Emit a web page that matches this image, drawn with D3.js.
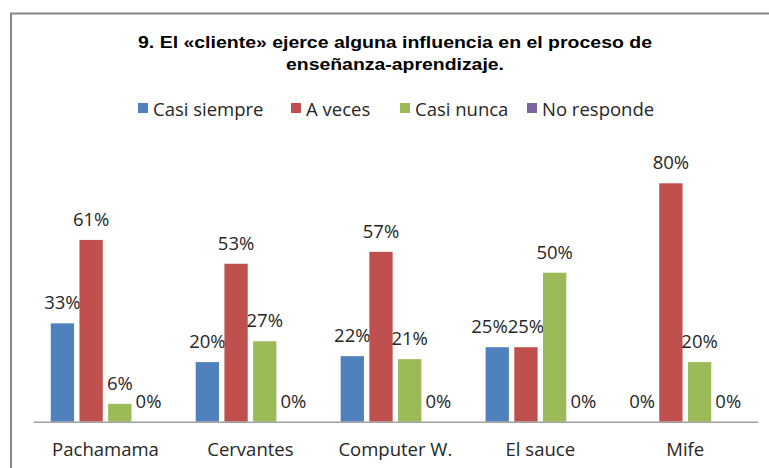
<!DOCTYPE html>
<html>
<head>
<meta charset="utf-8">
<script src="https://cdn.jsdelivr.net/npm/d3@7"></script>
<style>
html,body{margin:0;padding:0;background:#fff;}
svg{display:block;}
</style>
</head>
<body>
<svg id="chart" width="769" height="468"></svg>
<script>
const titleLines = ["9. El «cliente» ejerce alguna influencia en el proceso de", "enseñanza-aprendizaje."];
const categories = ["Pachamama", "Cervantes", "Computer W.", "El sauce", "Mife"];
const seriesNames = ["Casi siempre", "A veces", "Casi nunca", "No responde"];
const seriesColors = ["#4F81BD", "#C0504D", "#9BBB59", "#8064A2"];
const casiSiempre = [33, 20, 22, 25, 0];
const aVeces = [61, 53, 57, 25, 80];
const casiNunca = [6, 27, 21, 50, 20];
const noResponde = [0, 0, 0, 0, 0];
const seriesValues = [casiSiempre, aVeces, casiNunca, noResponde];

const svg = d3.select("#chart");
const labelFont = "'Open Sans', Lato, sans-serif";

// border frame
svg.append("rect")
  .attr("x", 11).attr("y", 13.5)
  .attr("width", 800).attr("height", 500)
  .attr("fill", "none").attr("stroke", "#868686").attr("stroke-width", 2);

// title
const titleY = [48, 70];
const titleW = [514, 218];
titleLines.forEach((t, i) => {
  svg.append("text")
    .attr("x", 395).attr("y", titleY[i])
    .attr("text-anchor", "middle")
    .attr("font-family", "'Liberation Sans', Arial, sans-serif")
    .attr("font-weight", "bold")
    .attr("font-size", 16.5)
    .attr("textLength", titleW[i])
    .attr("lengthAdjust", "spacingAndGlyphs")
    .attr("fill", "#000")
    .text(t);
});

// legend
const legendX = [138, 291, 400, 527];
const legend = svg.append("g");
seriesNames.forEach((name, i) => {
  legend.append("rect")
    .attr("x", legendX[i]).attr("y", 103)
    .attr("width", 10).attr("height", 10)
    .attr("fill", seriesColors[i]);
  legend.append("text")
    .attr("x", legendX[i] + 15).attr("y", 115.5)
    .attr("font-family", labelFont)
    .attr("font-size", 18.5)
    .attr("fill", "#262626")
    .text(name);
});

// scales
const x0 = d3.scaleBand().domain(categories).range([33, 757.7]).padding(0);
const groupW = x0.bandwidth();
const innerW = 109.4;
const x1 = d3.scaleBand().domain(d3.range(seriesNames.length))
  .range([(groupW - innerW) / 2, (groupW + innerW) / 2])
  .paddingInner(0.188).paddingOuter(0);
const y = d3.scaleLinear().domain([0, 100]).range([421.7, 123.7]);

// bars
const groups = svg.append("g").selectAll("g")
  .data(categories)
  .join("g")
  .attr("transform", d => `translate(${x0(d)},0)`);

groups.each(function(cat, ci) {
  const g = d3.select(this);
  const labels = [];
  seriesValues.forEach((vals, si) => {
    const v = vals[ci];
    g.append("rect")
      .attr("x", x1(si)).attr("width", x1.bandwidth())
      .attr("y", y(v)).attr("height", y(0) - y(v))
      .attr("fill", seriesColors[si]);
    const t = g.append("text")
      .attr("x", x1(si) + x1.bandwidth() / 2)
      .attr("y", y(v) - 14)
      .attr("text-anchor", "middle")
      .attr("font-family", labelFont)
      .attr("font-size", 18.5)
      .attr("fill", "#262626")
      .text(v + "%");
    labels.push({t, v, cx: x1(si) + x1.bandwidth() / 2});
  });
  // nudge labels that collide with the next one at the same height
  for (let i = labels.length - 2; i >= 0; i--) {
    const a = labels[i], b = labels[i + 1];
    if (Math.abs(a.v - b.v) < 4) {
      const wa = a.t.node().getComputedTextLength();
      const wb = b.t.node().getComputedTextLength();
      const overlap = (a.cx + wa / 2) - (b.cx - wb / 2);
      if (overlap > 0) {
        a.cx -= overlap;
        a.t.attr("x", a.cx);
      }
    }
  }
});

// axis
const xAxis = d3.axisBottom(x0).tickSize(0).tickPadding(21);
const ax = svg.append("g").attr("transform", "translate(0,421.7)").call(xAxis);
ax.select(".domain").attr("stroke", "#A0A0A0").attr("stroke-width", 1.5);
ax.selectAll("text")
  .attr("font-family", labelFont)
  .attr("font-size", 18.5)
  .attr("fill", "#262626");
</script>
</body>
</html>
